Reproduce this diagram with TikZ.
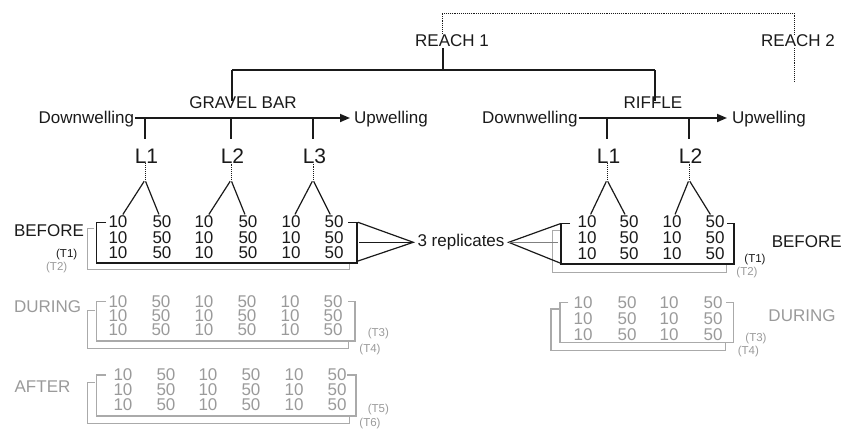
\documentclass[tikz,border=0pt]{standalone}
\usepackage{fontspec}
\setmainfont{Liberation Sans}
\usetikzlibrary{arrows.meta}
\definecolor{ink}{HTML}{1A1A1A}
\definecolor{gtext}{HTML}{9A9A9A}
\definecolor{gline}{HTML}{AAAAAA}
\newcommand{\depthval}[1]{\ifodd#1\relax 10\else 50\fi}
\begin{document}
\begin{tikzpicture}[x=1pt,y=-1pt,
  txt/.style={font=\fontsize{17}{15}\selectfont, inner sep=1pt, text=ink},
  gtxt/.style={txt, text=gtext},
  loc/.style={font=\fontsize{21}{21}\selectfont, inner sep=1pt, text=ink},
  num/.style={txt, inner sep=0pt},
  gnum/.style={num, text=gtext},
  tlab/.style={font=\fontsize{11.5}{12}\selectfont, inner sep=0pt, text=ink},
  gtlab/.style={tlab, text=gtext},
  ln/.style={line width=1.2pt, draw=ink},
  leg/.style={ln, shorten <=1.5pt, shorten >=1.5pt},
  bigln/.style={line width=1.7pt, draw=ink},
  arr/.style={line width=1.7pt, draw=ink, -{Triangle[length=10pt,width=8pt]}},
  dots/.style={line width=0.9pt, densely dotted, draw=ink},
  bbox/.style={line width=1.3pt, draw=ink},
  gbox/.style={line width=1.3pt, draw=gline},
  gln/.style={line width=1.2pt, draw=gray}
]
\useasboundingbox (0,0) rectangle (857,431);

% ---- top level
\node[txt] (reach1) at (452,41) {REACH 1};
\node[txt] (reach2) at (798,41) {REACH 2};
\coordinate (d1) at (442,13);
\coordinate (d2) at (794,13);
\coordinate (r2end) at (794,82);
\draw[dots] (reach1.north -| d1) -- (d1) -- (d2) -- (reach2.north -| d2);
\draw[dots] (reach2.south -| d2) -- (r2end);

\coordinate (j) at (443,70);
\coordinate (gbj) at (232,70);
\coordinate (rfj) at (655,70);
\node[txt] (gravel) at (243,103) {GRAVEL BAR};
\node[txt] (riffle) at (653,103) {RIFFLE};
\draw[ln] (reach1.south -| j) -- (j);
\draw[bigln] (gbj) -- (rfj);
\draw[ln] (gbj) -- ([yshift=-5pt]gravel.north -| gbj);
\draw[ln] (rfj) -- ([yshift=-5pt]riffle.north -| rfj);

% ---- gradient arrows
\node[txt, anchor=base west] (dwL) at (37.5,123) {Downwelling};
\node[txt, anchor=base west] (upL) at (353,123) {Upwelling};
\node[txt, anchor=base west] (dwR) at (481,123) {Downwelling};
\node[txt, anchor=base west] (upR) at (731,123) {Upwelling};
\coordinate (ay) at (0,118);
\draw[arr, shorten >=3pt] (dwL.east |- ay) -- (upL.west |- ay);
\draw[arr, shorten >=4pt] (dwR.east |- ay) -- (upR.west |- ay);

% ---- locations
\foreach \nm/\x/\lab in {gL1/145/L1, gL2/231/L2, gL3/313/L3, rL1/607/L1, rL2/689/L2}{
  \coordinate (t-\nm) at (\x,118);
  \coordinate (te-\nm) at (\x,139);
  \coordinate (ap-\nm) at (\x,180);
  \node[loc] (\nm) at ([xshift=1.5pt]\x,156) {\lab};
  \draw[ln] (t-\nm) -- (te-\nm);
  \draw[dots] ([yshift=1pt]\nm.south -| ap-\nm) -- (ap-\nm);
}

% ---- number grids
\foreach \x [count=\c] in {118,162,204,248,291,334}
  \foreach \y [count=\r] in {222,238,253}
    \node[num] (gB-\r-\c) at (\x,\y) {\depthval{\c}};
\foreach \x [count=\c] in {118,161,204,247,290,333}
  \foreach \y [count=\r] in {302,316,330}
    \node[gnum] (gD-\r-\c) at (\x,\y) {\depthval{\c}};
\foreach \x [count=\c] in {123,166,208,251,294,337}
  \foreach \y [count=\r] in {375,390,405}
    \node[gnum] (gA-\r-\c) at (\x,\y) {\depthval{\c}};
\foreach \x [count=\c] in {587,629,672,715}
  \foreach \y [count=\r] in {222,238,254}
    \node[num] (rB-\r-\c) at (\x,\y) {\depthval{\c}};
\foreach \x [count=\c] in {583,627,669,713}
  \foreach \y [count=\r] in {303,319,335}
    \node[gnum] (rD-\r-\c) at (\x,\y) {\depthval{\c}};

% ---- triangles (location -> two depths)
\draw[leg] (ap-gL1) -- (gB-1-1); \draw[leg] (ap-gL1) -- (gB-1-2);
\draw[leg] (ap-gL2) -- (gB-1-3); \draw[leg] (ap-gL2) -- (gB-1-4);
\draw[leg] (ap-gL3) -- (gB-1-5); \draw[leg] (ap-gL3) -- (gB-1-6);
\draw[leg] (ap-rL1) -- (rB-1-1); \draw[leg] (ap-rL1) -- (rB-1-2);
\draw[leg] (ap-rL2) -- (rB-1-3); \draw[leg] (ap-rL2) -- (rB-1-4);

% ---- brackets, gravel bar
\draw[gbox] (94,228.5) -- (87.3,228.5) -- (87.3,269.3) -- (349.3,269.3) -- (349.3,263);
\draw[bbox] (106,222.3) -- (96.7,222.3) -- (96.7,263) -- (357,263) -- (357,222.3) -- (348,222.3);
\draw[gbox] (95,310.7) -- (87.3,310.7) -- (87.3,348.3) -- (348.3,348.3) -- (348.3,341);
\draw[gbox] (106,301.7) -- (96.7,301.7) -- (96.7,341) -- (355,341) -- (355,301.7) -- (348.3,301.7);
\draw[gbox] (95,382.3) -- (87.3,382.3) -- (87.3,423.3) -- (349.3,423.3) -- (349.3,416);
\draw[gbox] (106,375) -- (96.7,375) -- (96.7,416) -- (356,416) -- (356,375) -- (346.7,375);

% ---- brackets, riffle
\draw[gbox] (561,230.7) -- (552.3,230.7) -- (552.3,272.3) -- (726.7,272.3) -- (726.7,264);
\draw[bbox] (570,223.3) -- (561,223.3) -- (561,264) -- (734,264) -- (734,223.3) -- (726.7,223.3);
\draw[gbox] (559.3,309) -- (551,309) -- (551,350.7) -- (725.7,350.7) -- (725.7,342.7);
\draw[gbox] (568.3,302.7) -- (560,302.7) -- (560,342.7) -- (733.3,342.7) -- (733.3,302.7) -- (725.7,302.7);

% ---- period labels
\node[txt] (befL) at (49,230.5) {BEFORE};
\node[gtxt] (durL) at (47.7,306.7) {DURING};
\node[gtxt] (aftL) at (42.5,386.7) {AFTER};
\node[txt] (befR) at (806.7,241.7) {BEFORE};
\node[gtxt] (durR) at (802,316) {DURING};

\node[tlab] (t1L) at (66.7,255) {(T1)};
\node[gtlab] (t2L) at (56.7,268) {(T2)};
\node[gtlab] (t3L) at (378.3,333.3) {(T3)};
\node[gtlab] (t4L) at (370,349.3) {(T4)};
\node[gtlab] (t5L) at (378.3,410) {(T5)};
\node[gtlab] (t6L) at (370,423.3) {(T6)};
\node[tlab] (t1R) at (755,260) {(T1)};
\node[gtlab] (t2R) at (747,272.7) {(T2)};
\node[gtlab] (t3R) at (756,338.3) {(T3)};
\node[gtlab] (t4R) at (748.3,351.7) {(T4)};

% ---- replicates
\node[txt, inner xsep=4pt] (rep) at (461,242.3) {3 replicates};
\coordinate (bL1) at (358,222.3);
\coordinate (bL2) at (359,242.3);
\coordinate (bL3) at (358,261);
\coordinate (bR1) at (560,223.8);
\coordinate (bR2) at (558,242.3);
\coordinate (bR3) at (560,263);
\draw[ln] (bL1) -- (rep.west) -- (bL3);
\draw[ln] (bL2) -- (rep.west);
\draw[ln] (bR1) -- (rep.east) -- (bR3);
\draw[gln] (rep.east) -- (bR2);
\end{tikzpicture}
\end{document}
